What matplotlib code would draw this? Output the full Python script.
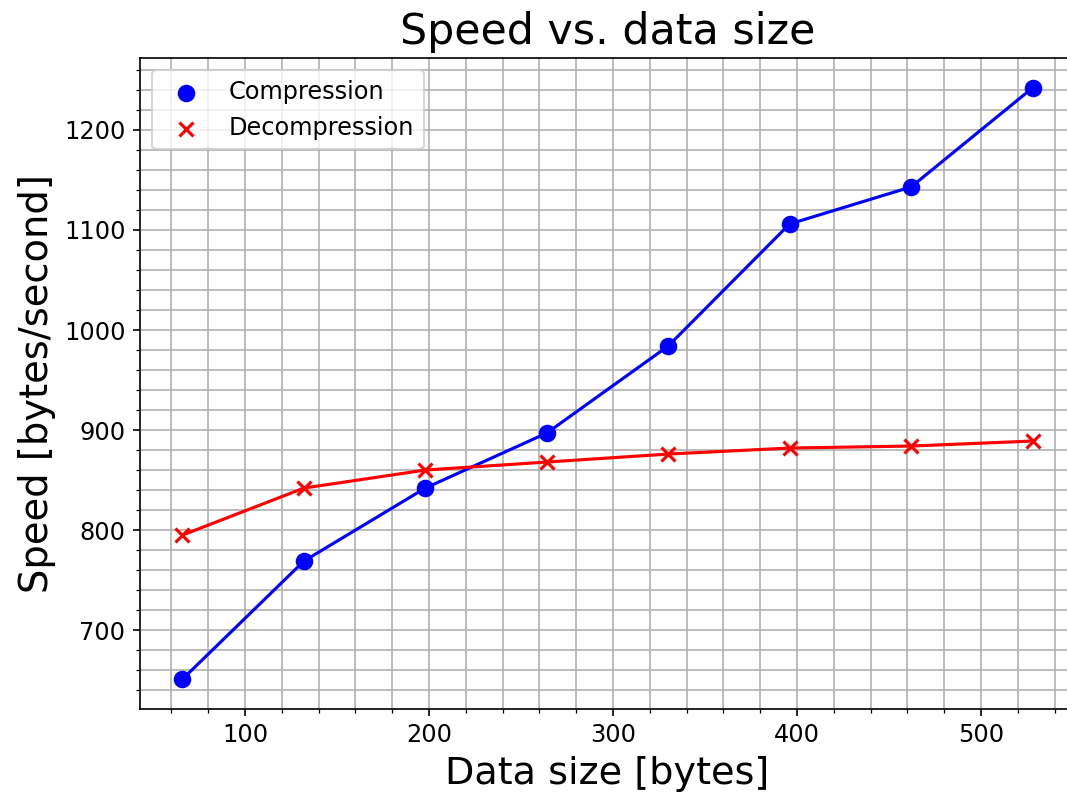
import numpy as np
import matplotlib
matplotlib.use("Agg")
import matplotlib.pyplot as plt

# Data ======================================================================
data_size = [66, 132, 198, 264, 330, 396, 462, 528]
compression = [651, 769, 842, 897, 984, 1106, 1143, 1242]
decompression = [795, 842, 860, 868, 876, 882, 884, 889]

# Plot ======================================================================
fig = plt.figure(figsize=(1067/150, 792/150), dpi=150)
ax = fig.add_axes([0.1312, 0.1052, 0.8763, 0.8211])

ax.plot(data_size, compression, 'b-', lw=1.5)
ax.scatter(data_size, compression, c='blue', marker='o', s=55, label="Compression", zorder=3)
ax.plot(data_size, decompression, 'r-', lw=1.5)
ax.scatter(data_size, decompression, c='red', marker='x', s=45, label="Decompression", zorder=3)

ax.minorticks_on()
ax.grid(which='both', color='#b0b0b0', lw=0.8)
ax.set_axisbelow(True)
ax.tick_params(labelsize=11.5)

ax.set_title("Speed vs. data size", fontsize=20.5, pad=7)
ax.set_xlabel("Data size [bytes]", fontsize=18.3)
ax.set_ylabel("Speed [bytes/second]", fontsize=18.5)
ax.legend(fontsize=11.5, loc='upper left')

fig.savefig("out.png", dpi=150)
